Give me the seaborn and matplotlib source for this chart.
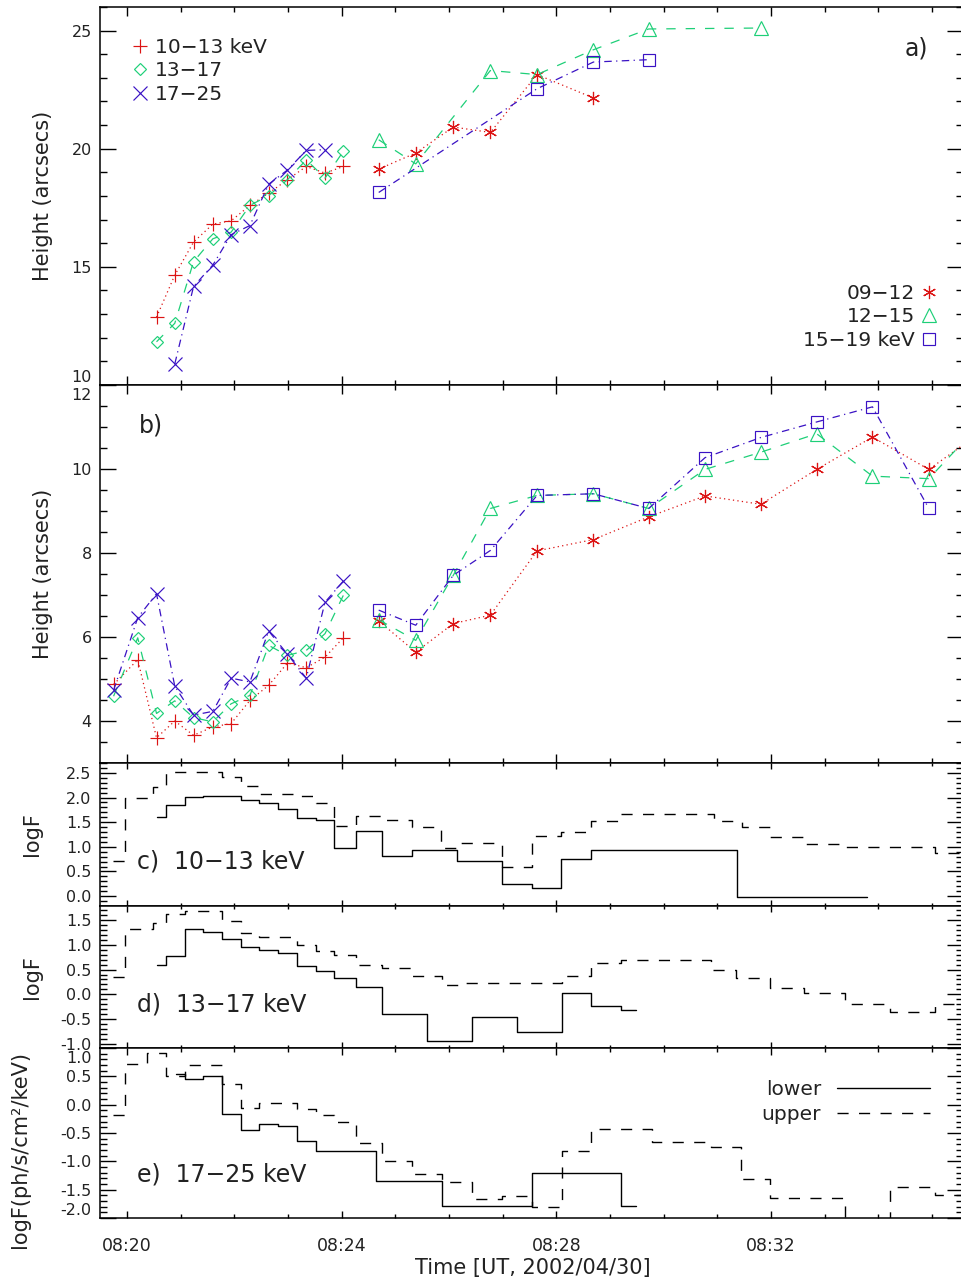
import numpy as np
import pandas as pd
import matplotlib
matplotlib.use("Agg")
import matplotlib.pyplot as plt
from matplotlib.lines import Line2D
from matplotlib.ticker import MultipleLocator, FixedLocator, FormatStrFormatter
from matplotlib.transforms import ScaledTranslation
import seaborn as sns

sns.set_theme(style="ticks")
plt.rcParams["font.family"] = ["DejaVu Sans"]
plt.rcParams["axes.unicode_minus"] = True

# ---------------------------------------------------------------
# Time is expressed in minutes after 08:20 UT on 2002/04/30
# ---------------------------------------------------------------
TIME_TICKS = [0, 4, 8, 12]
TIME_LABELS = ["08:20", "08:24", "08:28", "08:32"]

# ---- a) source heights, first group (10-13, 13-17, 17-25 keV) ----
t_a_low = [0.55, 0.89, 1.24, 1.60, 1.94, 2.29, 2.64, 2.99, 3.34, 3.69, 4.03]
a_10_13 = [12.87, 14.65, 16.05, 16.81, 16.95, 17.60, 18.12, 18.69, 19.25, 18.97, 19.25]
a_13_17 = [11.83, 12.61, 15.22, 16.19, 16.47, 17.60, 18.02, 18.69, 19.53, 18.76, 19.89]
t_a_high = [0.89, 1.24, 1.60, 1.94, 2.29, 2.64, 2.99, 3.34, 3.69]
a_17_25 = [10.89, 14.17, 15.08, 16.36, 16.75, 18.50, 19.10, 19.93, 19.96]

# ---- a) source heights, second group (09-12, 12-15, 15-19 keV) ----
t_a_09_12 = [4.69, 5.38, 6.08, 6.77, 7.64, 8.69]
a_09_12 = [19.14, 19.82, 20.92, 20.69, 23.14, 22.15]
t_a_12_15 = [4.69, 5.38, 6.77, 7.64, 8.69, 9.72, 11.81]
a_12_15 = [20.38, 19.36, 23.31, 23.14, 24.19, 25.07, 25.11]
t_a_15_19 = [4.69, 7.64, 8.69, 9.72]
a_15_19 = [18.15, 22.54, 23.67, 23.77]

# ---- b) source heights ----
t_b1 = [-0.25, 0.20, 0.55, 0.89, 1.24, 1.60, 1.94, 2.29, 2.64, 2.99, 3.34, 3.69, 4.03]
b_10_13 = [4.87, 5.46, 3.60, 4.00, 3.66, 3.86, 3.94, 4.49, 4.85, 5.38, 5.27, 5.52, 5.98]
b_13_17 = [4.59, 5.98, 4.18, 4.48, 4.08, 3.98, 4.41, 4.61, 5.80, 5.56, 5.68, 6.08, 6.99]
b_17_25 = [4.73, 6.46, 7.03, 4.83, 4.14, 4.23, 5.02, 4.93, 6.14, 5.59, 5.02, 6.83, 7.33]

t_b2 = [4.69, 5.38, 6.08, 6.77, 7.64, 8.69, 9.72, 10.77, 11.81, 12.85, 13.89, 14.94, 15.99]
b_09_12 = [6.38, 5.64, 6.32, 6.52, 8.05, 8.32, 8.86, 9.36, 9.16, 9.99, 10.76, 9.99, 10.95]
b_12_15 = [6.41, 5.92, 7.47, 9.06, 9.37, 9.41, 9.06, 9.99, 10.40, 10.84, 9.83, 9.77, 11.20]
t_b_15_19 = [4.69, 5.38, 6.08, 6.77, 7.64, 8.69, 9.72, 10.77, 11.81, 12.85, 13.89, 14.94]
b_15_19 = [6.64, 6.28, 7.47, 8.06, 9.37, 9.41, 9.06, 10.27, 10.75, 11.12, 11.48, 9.06]

# ---- c) 10-13 keV flux bounds: bin edges (min) and log flux ----
c_lower_edges = [0.553, 0.727, 1.081, 1.422, 2.118, 2.465, 2.819, 3.162, 3.516, 3.863,
                 4.261, 4.757, 5.316, 6.154, 6.993, 7.546, 8.086, 8.645, 11.371, 13.794]
c_lower = [1.61, 1.84, 2.02, 2.04, 1.94, 1.88, 1.77, 1.58, 1.55, 0.98,
           1.32, 0.82, 0.93, 0.72, 0.25, 0.16, 0.76, 0.93, -0.02]
c_upper_edges = [-0.255, -0.037, 0.490, 0.727, 1.770, 2.118, 2.465, 3.162, 3.516, 3.863,
                 4.261, 4.757, 5.316, 5.851, 6.154, 6.993, 7.546, 8.086, 8.645, 9.204,
                 10.937, 11.459, 11.981, 12.596, 13.378, 15.055, 16.08]
c_upper = [0.72, 2.00, 2.22, 2.52, 2.41, 2.24, 2.07, 2.03, 1.88, 1.42,
           1.63, 1.55, 1.40, 0.98, 1.08, 0.59, 1.21, 1.31, 1.53, 1.67,
           1.53, 1.40, 1.20, 1.06, 0.99, 0.87]

# ---- d) 13-17 keV flux bounds ----
d_lower_edges = [0.553, 0.727, 1.081, 1.422, 1.765, 2.118, 2.465, 2.819, 3.162, 3.516,
                 3.863, 4.261, 4.757, 5.595, 6.423, 7.261, 8.099, 8.645, 9.204, 9.484]
d_lower = [0.60, 0.77, 1.32, 1.26, 1.12, 0.96, 0.90, 0.84, 0.57, 0.48,
           0.32, 0.15, -0.39, -0.94, -0.46, -0.76, 0.02, -0.24, -0.32]
d_upper_edges = [-0.255, -0.037, 0.490, 0.727, 1.081, 1.765, 2.118, 2.465, 3.162, 3.516,
                 3.863, 4.261, 4.757, 5.316, 5.864, 6.316, 8.099, 8.645, 9.204, 10.876,
                 11.347, 11.981, 12.614, 13.378, 14.217, 15.055, 16.08]
d_upper = [0.35, 1.32, 1.44, 1.61, 1.67, 1.47, 1.24, 1.16, 1.00, 0.87,
           0.80, 0.60, 0.54, 0.38, 0.18, 0.23, 0.37, 0.64, 0.70, 0.50,
           0.33, 0.13, 0.03, -0.19, -0.35, -0.19]

# ---- e) 17-25 keV flux bounds ----
e_lower_edges = [0.907, 1.081, 1.422, 1.765, 2.118, 2.465, 2.819, 3.162, 3.516, 4.634,
                 5.864, 7.541, 9.204, 9.484]
e_lower = [0.55, 0.45, 0.51, -0.17, -0.45, -0.34, -0.38, -0.64, -0.82, -1.34,
           -1.79, -1.20, -1.79]
e_upper_edges = [-0.255, -0.037, 0.378, 0.727, 1.081, 1.765, 2.118, 2.465, 3.162, 3.516,
                 3.863, 4.261, 4.757, 5.316, 5.864, 6.423, 6.993, 7.541, 8.099, 8.645,
                 9.776, 10.876, 11.435, 11.981, 13.378, 14.217, 15.055, 16.08]
e_upper = [-0.19, 0.71, 0.91, 0.51, 0.70, 0.37, -0.06, 0.03, -0.08, -0.18,
           -0.31, -0.67, -0.99, -1.22, -1.36, -1.66, -1.61, -1.81, -0.81, -0.43,
           -0.66, -0.75, -1.31, -1.64, -2.30, -1.46, -1.60]

# ---------------------------------------------------------------
RED = "#dc1414"
GREEN = "#1ecf78"
BLUE = "#3a12c4"

DOT = (0, (1.0, 2.6))
DASH = (0, (7.5, 8.0))
DASHDOT = (0, (6.0, 3.5, 1.0, 3.5))
UPPER_DASH = (0, (8.0, 7.5))

W_PX, H_PX = 961, 1283
fig = plt.figure(figsize=(W_PX / 100, H_PX / 100), dpi=100)

LEFT_PX, RIGHT_PX = 100, 963


def band(top_px, bot_px):
    return [LEFT_PX / W_PX, 1 - bot_px / H_PX,
            (RIGHT_PX - LEFT_PX) / W_PX, (bot_px - top_px) / H_PX]


ax_a = fig.add_axes(band(7, 385))
ax_b = fig.add_axes(band(385, 763))
ax_c = fig.add_axes(band(763, 906))
ax_d = fig.add_axes(band(906, 1048))
ax_e = fig.add_axes(band(1048, 1218))
axes = [ax_a, ax_b, ax_c, ax_d, ax_e]

X_MIN = (LEFT_PX - 127) / 53.67
X_MAX = (RIGHT_PX - 127) / 53.67


def series(ax, t, v, color, marker, ls, ms):
    df = pd.DataFrame({"t": t, "v": v})
    sns.lineplot(data=df, x="t", y="v", ax=ax, estimator=None, sort=False,
                 color=color, linestyle=ls, linewidth=0.9, marker=marker,
                 markersize=ms, markeredgecolor=color, markerfacecolor="none",
                 markeredgewidth=0.85, legend=False)


def steps(ax, edges, vals, ls):
    df = pd.DataFrame({"t": list(edges), "v": list(vals) + [vals[-1]]})
    sns.lineplot(data=df, x="t", y="v", ax=ax, estimator=None, sort=False,
                 color="black", linestyle=ls, linewidth=1.0,
                 drawstyle="steps-post", legend=False)


ASTER = (6, 2, 0)
MS = {"+": 9.5, "D": 6.2, "x": 9.5, ASTER: 9.5, "^": 10.5, "s": 9.2}

# a)
series(ax_a, t_a_low, a_10_13, RED, "+", DOT, MS["+"])
series(ax_a, t_a_low, a_13_17, GREEN, "D", DASH, MS["D"])
series(ax_a, t_a_high, a_17_25, BLUE, "x", DASHDOT, MS["x"])
series(ax_a, t_a_09_12, a_09_12, RED, ASTER, DOT, MS[ASTER])
series(ax_a, t_a_12_15, a_12_15, GREEN, "^", DASH, MS["^"])
series(ax_a, t_a_15_19, a_15_19, BLUE, "s", DASHDOT, MS["s"])

# b)
series(ax_b, t_b1, b_10_13, RED, "+", DOT, MS["+"])
series(ax_b, t_b1, b_13_17, GREEN, "D", DASH, MS["D"])
series(ax_b, t_b1, b_17_25, BLUE, "x", DASHDOT, MS["x"])
series(ax_b, t_b2, b_09_12, RED, ASTER, DOT, MS[ASTER])
series(ax_b, t_b2, b_12_15, GREEN, "^", DASH, MS["^"])
series(ax_b, t_b_15_19, b_15_19, BLUE, "s", DASHDOT, MS["s"])

# c) d) e)
for ax, le, lv, ue, uv in [(ax_c, c_lower_edges, c_lower, c_upper_edges, c_upper),
                           (ax_d, d_lower_edges, d_lower, d_upper_edges, d_upper),
                           (ax_e, e_lower_edges, e_lower, e_upper_edges, e_upper)]:
    steps(ax, le, lv, "-")
    steps(ax, ue, uv, UPPER_DASH)

# ---- axes styling ----
ylims = {ax_a: (10, 26), ax_b: (3, 12), ax_c: (-0.2, 2.7),
         ax_d: (-1.08, 1.78), ax_e: (-2.0, 1.0)}
ymaj = {ax_a: 5, ax_b: 2, ax_c: 0.5, ax_d: 0.5, ax_e: 0.5}
ymin = {ax_a: 1, ax_b: 0.5, ax_c: 0.1, ax_d: 0.1, ax_e: 0.1}
xlen = {ax_a: (6.5, 3.5), ax_b: (6.5, 3.5), ax_c: (4.5, 2.5),
        ax_d: (4.5, 2.5), ax_e: (5.0, 3.0)}

TICK_FS = 11.5
TXT = "#222222"
for ax in axes:
    ax.set_facecolor("white")
    ax.set_xlim(X_MIN, X_MAX)
    ax.set_ylim(*ylims[ax])
    ax.xaxis.set_major_locator(FixedLocator(TIME_TICKS))
    ax.xaxis.set_minor_locator(MultipleLocator(1))
    ax.yaxis.set_major_locator(MultipleLocator(ymaj[ax]))
    ax.yaxis.set_minor_locator(MultipleLocator(ymin[ax]))
    ax.tick_params(which="both", direction="in", top=True, right=True,
                   width=1.0, color="black", labelsize=TICK_FS, labelcolor=TXT)
    ax.tick_params(axis="x", which="major", length=xlen[ax][0])
    ax.tick_params(axis="x", which="minor", length=xlen[ax][1])
    ax.tick_params(axis="y", which="major", length=11.3, pad=6)
    ax.tick_params(axis="y", which="minor", length=5.3)
    for sp in ax.spines.values():
        sp.set_linewidth(1.1)
        sp.set_color("black")
    ax.set_xlabel("")
    ax.set_ylabel("")
    if ax is not ax_e:
        ax.tick_params(axis="x", labelbottom=False)

for ax in [ax_c, ax_d, ax_e]:
    ax.yaxis.set_major_formatter(FormatStrFormatter("%.1f"))
ax_a.yaxis.set_major_formatter(FormatStrFormatter("%d"))
ax_b.yaxis.set_major_formatter(FormatStrFormatter("%d"))

ax_e.set_xticks(TIME_TICKS)
ax_e.set_xticklabels(TIME_LABELS, fontsize=12.5)
ax_e.tick_params(axis="x", which="major", pad=14)

LABEL_FS = 15
ax_a.set_ylabel("Height (arcsecs)", fontsize=LABEL_FS, color=TXT, va="center")
ax_a.yaxis.set_label_coords((43 - LEFT_PX) / 863, 0.50)
ax_b.set_ylabel("Height (arcsecs)", fontsize=LABEL_FS, color=TXT, va="center")
ax_b.yaxis.set_label_coords((43 - LEFT_PX) / 863, 0.50)
ax_c.set_ylabel("logF", fontsize=LABEL_FS, color=TXT, va="center")
ax_c.yaxis.set_label_coords((32 - LEFT_PX) / 863, 0.50)
ax_d.set_ylabel("logF", fontsize=LABEL_FS, color=TXT, va="center")
ax_d.yaxis.set_label_coords((32 - LEFT_PX) / 863, 0.50)
ax_e.set_ylabel("logF(ph/s/cm²/keV)", fontsize=LABEL_FS, color=TXT, va="center")
ax_e.yaxis.set_label_coords((20 - LEFT_PX) / 863, 0.40)
ax_e.set_xlabel("Time [UT, 2002/04/30]", fontsize=LABEL_FS, color=TXT, va="top")
ax_e.xaxis.set_label_coords((533 - LEFT_PX) / 863, (1218 - 1258) / 170)

# panel tags
PANEL_FS = 17
ax_a.text((916 - LEFT_PX) / 863, 0.8915, "a)", transform=ax_a.transAxes,
          fontsize=PANEL_FS, color=TXT, ha="center", va="center")
ax_b.text((151 - LEFT_PX) / 863, 0.894, "b)", transform=ax_b.transAxes,
          fontsize=PANEL_FS, color=TXT, ha="center", va="center")
ax_c.text((137 - LEFT_PX) / 863, 0.308, "c)  10−13 keV", transform=ax_c.transAxes,
          fontsize=PANEL_FS, color=TXT, ha="left", va="center")
ax_d.text((137 - LEFT_PX) / 863, 0.303, "d)  13−17 keV", transform=ax_d.transAxes,
          fontsize=PANEL_FS, color=TXT, ha="left", va="center")
ax_e.text((137 - LEFT_PX) / 863, 0.253, "e)  17−25 keV", transform=ax_e.transAxes,
          fontsize=PANEL_FS, color=TXT, ha="left", va="center")

# legends
LEG_FS = 14.5


def mk(marker, color, ms):
    return Line2D([], [], ls="none", marker=marker, ms=ms, mec=color,
                  mfc="none", mew=0.85)


leg1 = ax_a.legend([mk("+", RED, MS["+"]), mk("D", GREEN, MS["D"]), mk("x", BLUE, MS["x"])],
                   ["10−13 keV", "13−17", "17−25"], loc="upper left",
                   bbox_to_anchor=((132 - LEFT_PX) / 863, (385 - 38) / 378),
                   frameon=False, fontsize=LEG_FS, handlelength=0.8,
                   handletextpad=0.35, labelspacing=0.22, borderpad=0,
                   borderaxespad=0, labelcolor=TXT)
ax_a.add_artist(leg1)
leg2 = ax_a.legend([mk(ASTER, RED, MS[ASTER]), mk("^", GREEN, MS["^"]), mk("s", BLUE, MS["s"])],
                   ["09−12", "12−15", "15−19 keV"], loc="upper right",
                   bbox_to_anchor=((937 - LEFT_PX) / 863, (385 - 284) / 378),
                   frameon=False, fontsize=LEG_FS, handlelength=0.8,
                   handletextpad=0.3, labelspacing=0.22, borderpad=0,
                   borderaxespad=0, markerfirst=False, labelcolor=TXT)

ax_e.legend([Line2D([], [], color="black", lw=1.0, ls="-"),
             Line2D([], [], color="black", lw=1.0, ls=UPPER_DASH)],
            ["lower", "upper"], loc="upper right",
            bbox_to_anchor=((930 - LEFT_PX) / 863, (1218 - 1080) / 170),
            frameon=False, fontsize=LEG_FS, handlelength=4.6,
            handletextpad=0.8, labelspacing=0.28, borderpad=0,
            borderaxespad=0, markerfirst=False, labelcolor=TXT)

# tick labels sitting on a panel boundary are nudged inside the panel
fig.canvas.draw()
for ax in axes:
    lo, hi = ax.get_ylim()
    for tick in ax.yaxis.get_major_ticks():
        loc = tick.get_loc()
        lab = tick.label1
        if np.isclose(loc, lo):
            lab.set_va("bottom")
        elif np.isclose(loc, hi):
            lab.set_va("top")
            lab.set_transform(lab.get_transform()
                              + ScaledTranslation(0, -2 / 72, fig.dpi_scale_trans))

fig.savefig("out.png", dpi=100, facecolor="white")
